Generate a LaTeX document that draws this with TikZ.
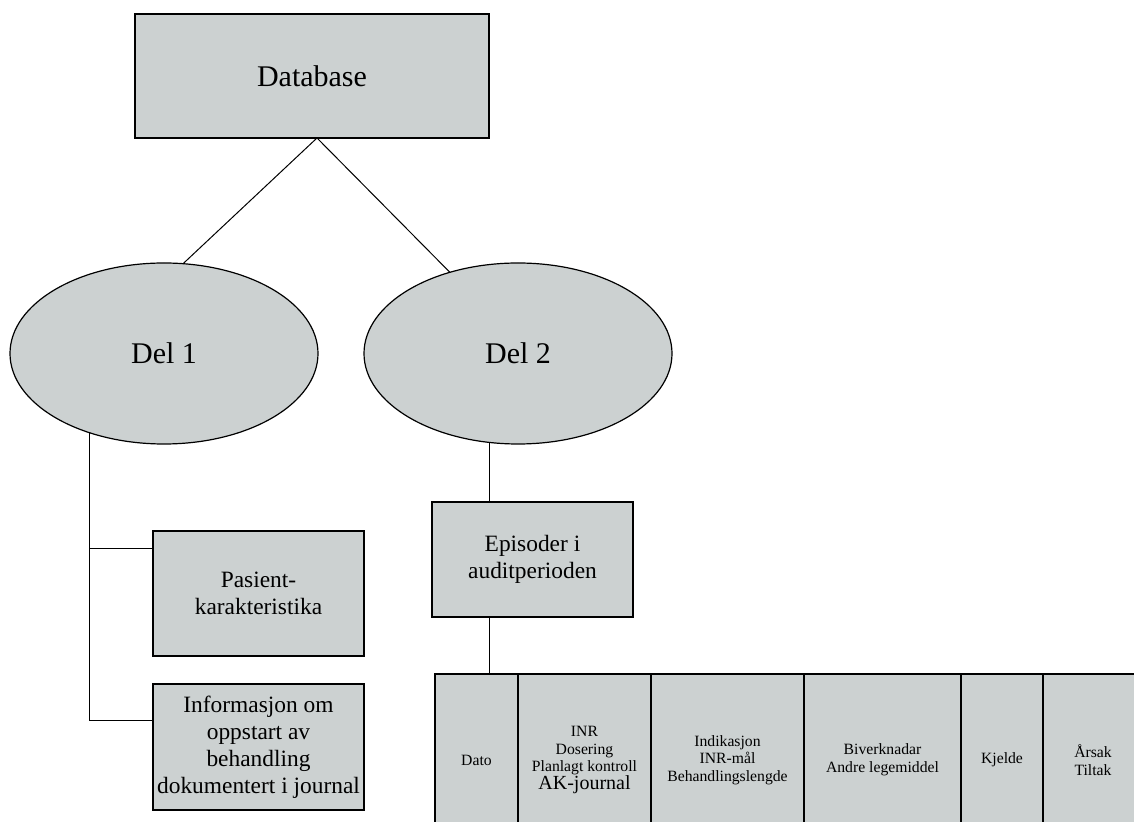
\documentclass[tikz,border=0pt]{standalone}
\usepackage{fontspec}
\setmainfont{Liberation Serif}
\usetikzlibrary{shapes.geometric, positioning}
\definecolor{boxgray}{RGB}{204,209,209}
\tikzset{box/.style={draw, fill=boxgray, line width=0.7pt, align=center, inner sep=2pt, outer sep=0pt},
	part/.style={ellipse, draw, fill=boxgray, line width=0.6pt, inner sep=0pt, outer sep=0pt, minimum width=154pt, minimum height=90.5pt, font=\fontsize{15}{18}\selectfont},
	mid/.style={box, font=\fontsize{11.7}{13.5}\selectfont},
	cell/.style={box, minimum height=86pt, font=\fontsize{7.85}{8.8}\selectfont},
	link/.style={line width=0.5pt}}

\begin{document}
\begin{tikzpicture}[x=0.5pt, y=-0.5pt]
	\useasboundingbox (0,0) rectangle (1134,822);
	\clip (0,0) rectangle (1134,822);
	% top
	\node[box, minimum width=177pt, minimum height=62pt, font=\fontsize{15}{18}\selectfont] (db) at (312,76) {Database};
	\node[part] (del1) at (164,353.5) {Del 1};
	\node[part] (del2) at (518,353.5) {Del 2};
	% del 1
	\node[mid, minimum width=105.5pt, minimum height=62.5pt] (pas) at (258.5,593.5) {Pasient-\\karakteristika};
	\node[mid, minimum width=105.5pt, minimum height=63pt] (inf) at (258.5,747) {Informasjon om\\oppstart av\\behandling\\dokumentert i journal};
	% del 2
	\node[mid, minimum width=100.5pt, minimum height=57.5pt] (epi) at (532.5,559.5) {Episoder i\\auditperioden};
	\node[cell, minimum width=41.5pt, anchor=north west] (dato) at (435,674) {Dato};
	\node[cell, minimum width=66.5pt, right=0pt of dato] (inr) {INR\\Dosering\\Planlagt kontroll\\{\fontsize{10}{11}\selectfont AK-journal}};
	\node[cell, minimum width=76.5pt, right=0pt of inr] (indik) {Indikasjon\\INR-mål\\Behandlingslengde};
	\node[cell, minimum width=78.5pt, right=0pt of indik] (biverk) {Biverknadar\\Andre legemiddel};
	\node[cell, minimum width=41pt, right=0pt of biverk] (kjelde) {Kjelde};
	\node[cell, minimum width=50pt, right=0pt of kjelde] (aarsak) {Årsak\\Tiltak};
	\coordinate (pasIn) at ([yshift=22.25pt]pas.west);
	\coordinate (infIn) at ([yshift=13.5pt]inf.west);
	\path[link]
		([xshift=2.5pt]db.south) edge (del1.78)
		([xshift=2.5pt]db.south) edge (del2.130)
		(del1.227 |- pasIn) edge (pasIn)
		(del2.252) edge (del2.252 |- epi.north)
		(del2.252 |- epi.south) edge (del2.252 |- dato.north)
		;
	\draw[link] (del1.227) |- (infIn);
\end{tikzpicture}
\end{document}
